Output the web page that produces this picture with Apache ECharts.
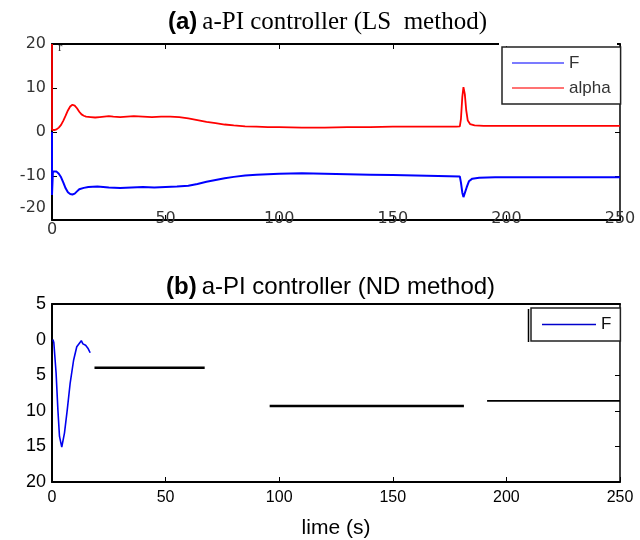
<!DOCTYPE html>
<html>
<head>
<meta charset="utf-8">
<script src="https://cdn.jsdelivr.net/npm/echarts/dist/echarts.min.js"></script>
<style>html,body{margin:0;padding:0;background:#fff}#c{width:640px;height:540px}</style>
</head>
<body>
<div id="c"></div>
<script>
// ---------- data ----------
const xTicks = [0, 50, 100, 150, 200, 250];
const aYTicks = [-20, -10, 0, 10, 20];
const bYTicks = [-5, 0, 5, 10, 15, 20];

// panel (a): alpha (red)
const alphaT = [0, 0, 1, 2, 3, 4, 5, 6, 7, 8, 9, 10, 11, 12, 13, 14, 15, 17, 19, 21, 23, 25, 27, 30, 33, 36, 40, 44, 48, 52, 56, 60, 64, 68, 72, 76, 80, 85, 90, 95, 100, 110, 120, 130, 140, 150, 160, 170, 178, 179.5, 180, 180.6, 181.1, 181.7, 182.3, 183, 184, 186, 190, 200, 210, 220, 230, 240, 250];
const alphaV = [20, 0.5, 0.45, 0.6, 1.0, 1.6, 2.6, 3.7, 4.9, 5.8, 6.2, 6.0, 5.4, 4.6, 4.0, 3.7, 3.5, 3.4, 3.3, 3.4, 3.5, 3.6, 3.5, 3.4, 3.5, 3.6, 3.5, 3.4, 3.5, 3.5, 3.4, 3.1, 2.7, 2.3, 2.0, 1.7, 1.5, 1.3, 1.2, 1.1, 1.1, 1.0, 1.0, 1.1, 1.1, 1.2, 1.2, 1.2, 1.2, 1.3, 3.0, 8.0, 10.2, 8.6, 5.0, 2.6, 1.8, 1.5, 1.4, 1.4, 1.4, 1.4, 1.4, 1.4, 1.4];

// panel (a): F (blue)
const fT = [0, 0, 0.4, 1, 2, 3, 4, 5, 6, 7, 8, 9, 10, 11, 12, 14, 16, 20, 25, 30, 35, 40, 45, 50, 55, 60, 64, 68, 72, 76, 80, 85, 90, 95, 100, 110, 120, 130, 140, 150, 160, 170, 179.5, 180, 180.6, 181.1, 181.7, 182.5, 183.5, 185, 188, 195, 200, 210, 220, 230, 240, 250];
const fV = [0, -14.3, -9.0, -8.8, -9.0, -9.5, -10.3, -11.5, -12.8, -13.7, -14.1, -14.2, -14.0, -13.5, -13.0, -12.7, -12.5, -12.4, -12.6, -12.7, -12.6, -12.5, -12.6, -12.5, -12.4, -12.2, -11.8, -11.3, -10.9, -10.5, -10.2, -9.9, -9.7, -9.6, -9.5, -9.4, -9.5, -9.6, -9.7, -9.8, -9.9, -10.0, -10.1, -11.5, -13.8, -14.8, -14.5, -12.6, -11.2, -10.6, -10.4, -10.3, -10.3, -10.3, -10.3, -10.3, -10.3, -10.3];

// panel (b): F (blue)
const bT = [0.4, 0.8, 1.8, 2.6, 3.3, 4.3, 5.5, 6.7, 8.0, 9.5, 10.9, 12.9, 13.6, 14.8, 15.8, 16.8];
const bV = [0.0, 0.4, 4.7, 9.9, 13.6, 15.1, 13.1, 9.9, 6.1, 2.9, 1.0, 0.15, 0.6, 0.8, 1.2, 1.85];

// panel (b): black level segments
const segStart = [18.7, 95.8, 191.5];
const segEnd = [67.2, 181.3, 250];
const segLevel = [3.95, 9.33, 8.6];
const segWidth = [2.5, 2.5, 1.6];

// ---------- chart ----------
const zip = (a, b) => a.map((v, i) => [v, b[i]]);
const chart = echarts.init(document.getElementById('c'), null, {renderer: 'canvas'});

const frameLine = {show: true, onZero: false, lineStyle: {color: '#000', width: 2}};
const tickIn = {show: true, inside: true, length: 5, lineStyle: {color: '#000', width: 1}};
const lblA = {fontFamily: 'DejaVu Sans', fontSize: 16, color: '#333'};
const lblB = {fontFamily: 'Liberation Sans', fontSize: 17, color: '#000'};

const segSeries = segStart.map((s, i) => ({
  type: 'line', name: 'level' + i, xAxisIndex: 2, yAxisIndex: 2,
  data: [[s, segLevel[i]], [segEnd[i], segLevel[i]]],
  showSymbol: false, lineStyle: {color: '#000', width: segWidth[i]}, itemStyle: {color: '#000'},
  animation: false, silent: true
}));

chart.setOption({
  animation: false,
  title: [
    {text: '{b|(a)} {s|a-PI controller (LS  method)}', left: 163, top: 5,
     textStyle: {rich: {
       b: {fontFamily: 'Liberation Sans', fontWeight: 'bold', fontSize: 24, color: '#000'},
       s: {fontFamily: 'Liberation Serif', fontWeight: 'normal', fontSize: 25, color: '#000'}}}},
    {text: '{b|(b)} {s|a-PI controller (ND method)}', left: 161, top: 270,
     textStyle: {rich: {
       b: {fontFamily: 'Liberation Sans', fontWeight: 'bold', fontSize: 24, color: '#000'},
       s: {fontFamily: 'Liberation Sans', fontWeight: 'normal', fontSize: 24, color: '#000'}}}}
  ],
  legend: [
    {orient: 'vertical', left: 502, top: 47, padding: [7, 10, 7, 10],
     itemWidth: 52, itemHeight: 2, itemGap: 7, selectedMode: false,
     borderColor: '#222', borderWidth: 1.5, backgroundColor: '#fff',
     textStyle: {fontFamily: 'Liberation Sans', fontSize: 17, color: '#333', lineHeight: 18},
     data: [
       {name: 'F', icon: 'rect', itemStyle: {color: 'rgba(100,100,255,0.85)'}},
       {name: 'alpha', icon: 'rect', itemStyle: {color: 'rgba(255,90,90,0.85)'}}
     ]},
    {orient: 'vertical', left: 531, top: 308, padding: [8, 9, 8, 11],
     itemWidth: 54, itemHeight: 1.5, selectedMode: false,
     borderColor: '#222', borderWidth: 1.5, backgroundColor: '#fff',
     textStyle: {fontFamily: 'Liberation Sans', fontSize: 17, color: '#111', lineHeight: 17},
     data: [{name: 'F', icon: 'rect', itemStyle: {color: '#0000cc'}}]}
  ],
  grid: [
    {left: 52, right: 20, top: 44, height: 176},
    {left: 52, right: 20, top: 304, height: 178}
  ],
  xAxis: [
    {gridIndex: 0, type: 'value', position: 'bottom', min: xTicks[0], max: xTicks[xTicks.length - 1], interval: 50,
     axisLine: frameLine, axisTick: tickIn, splitLine: {show: false},
     axisLabel: Object.assign({}, lblA, {margin: -9, showMaxLabel: true,
       formatter: v => v === 0 ? '{z|0}' : '{n|' + v + '}',
       rich: {z: Object.assign({padding: [11, 0, 0, 0]}, lblA), n: Object.assign({}, lblA)}})},
    {gridIndex: 0, type: 'value', position: 'top', min: 0, max: 250, interval: 50,
     axisLine: frameLine, axisTick: tickIn, axisLabel: {show: false}, splitLine: {show: false}},
    {gridIndex: 1, type: 'value', position: 'bottom', min: xTicks[0], max: xTicks[xTicks.length - 1], interval: 50,
     axisLine: frameLine, axisTick: tickIn, splitLine: {show: false},
     axisLabel: Object.assign({}, lblB, {margin: 8, fontSize: 16}),
     name: 'lime (s)', nameLocation: 'middle', nameGap: 36,
     nameTextStyle: {fontFamily: 'Liberation Sans', fontSize: 21, color: '#000'}},
    {gridIndex: 1, type: 'value', position: 'top', min: 0, max: 250, interval: 50,
     axisLine: frameLine, axisTick: {show: false}, axisLabel: {show: false}, splitLine: {show: false}}
  ],
  yAxis: [
    {gridIndex: 0, type: 'value', position: 'left', min: aYTicks[0], max: aYTicks[aYTicks.length - 1], interval: 10,
     axisLine: frameLine, axisTick: tickIn, splitLine: {show: false},
     axisLabel: Object.assign({}, lblA, {margin: 6,
       formatter: v => v === -20 ? '{u|-20}' : '{n|' + v + '}',
       rich: {u: Object.assign({padding: [0, 0, 24, 0]}, lblA), n: Object.assign({}, lblA)}})},
    {gridIndex: 0, type: 'value', position: 'right', min: -20, max: 20, interval: 10,
     axisLine: {show: true, onZero: false, lineStyle: {color: '#000', width: 1.5}}, axisTick: tickIn,
     axisLabel: {show: false}, splitLine: {show: false}},
    {gridIndex: 1, type: 'value', position: 'left', inverse: true, min: bYTicks[0], max: bYTicks[bYTicks.length - 1], interval: 5,
     axisLine: frameLine, axisTick: {show: false}, splitLine: {show: false},
     axisLabel: Object.assign({}, lblB, {margin: 6, fontSize: 18, formatter: v => String(Math.abs(v))})},
    {gridIndex: 1, type: 'value', position: 'right', inverse: true, min: -5, max: 20, interval: 5,
     axisLine: {show: true, onZero: false, lineStyle: {color: '#000', width: 1.5}}, axisTick: tickIn,
     axisLabel: {show: false}, splitLine: {show: false}}
  ],
  graphic: [
    {type: 'rect', shape: {x: 499, y: 40, width: 118, height: 6}, style: {fill: '#fff'}, z: 50},
    {type: 'text', left: 58, top: 41, style: {text: 'r', font: '13px "Liberation Serif"', fill: '#333'}, z: 50},
    {type: 'line', shape: {x1: 528.5, y1: 309, x2: 528.5, y2: 342}, style: {stroke: '#000', lineWidth: 1.5}, z: 50}
  ],
  series: [
    {type: 'line', name: 'alpha', xAxisIndex: 0, yAxisIndex: 0, data: zip(alphaT, alphaV),
     showSymbol: false, lineStyle: {color: '#ff0000', width: 1.8}, itemStyle: {color: '#ff0000'}},
    {type: 'line', name: 'F', xAxisIndex: 0, yAxisIndex: 0, data: zip(fT, fV),
     showSymbol: false, lineStyle: {color: '#0000ff', width: 2}, itemStyle: {color: '#0000ff'}},
    {type: 'line', name: 'F', xAxisIndex: 2, yAxisIndex: 2, data: zip(bT, bV),
     showSymbol: false, lineStyle: {color: '#0000ee', width: 1.6}, itemStyle: {color: '#0000ee'}}
  ].concat(segSeries)
});
</script>
</body>
</html>
